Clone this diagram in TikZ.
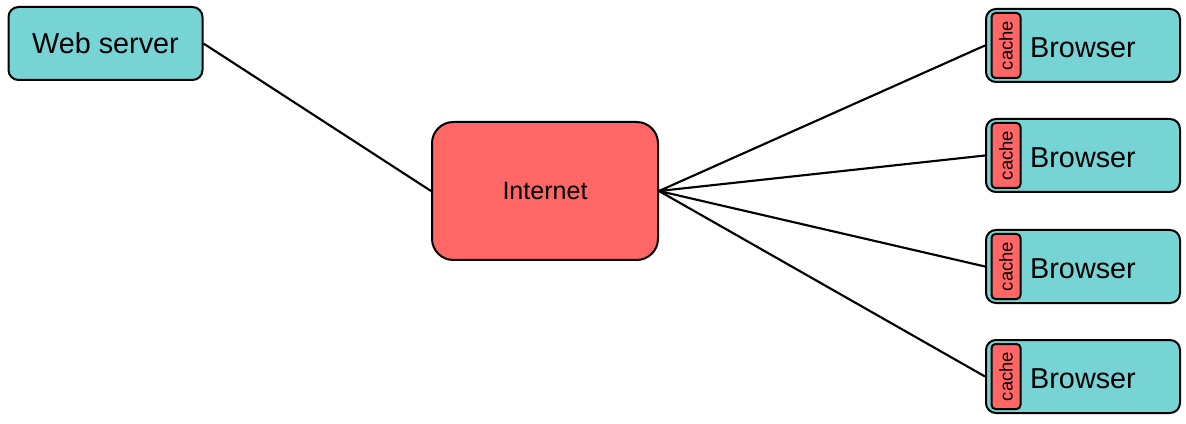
\documentclass[tikz,border=0pt]{standalone}
\usepackage{fontspec}
\setmainfont{Liberation Sans}
\usepackage{tikz}

\definecolor{boxteal}{RGB}{118,212,212}
\definecolor{boxred}{RGB}{255,102,102}

\begin{document}
\begin{tikzpicture}[x=0.75pt,y=0.75pt,yscale=-1,xscale=1,
    hostbox/.style={draw=black, line width=1.5pt, fill=boxteal, rounded corners=7.5pt,
        inner sep=0pt, minimum width=145.5pt, minimum height=54.75pt,
        font=\fontsize{21.6}{26}\selectfont},
    browserbox/.style={hostbox, text height=18.4pt, text depth=0pt},
    netbox/.style={draw=black, line width=1.5pt, fill=boxred, rounded corners=16pt,
        inner sep=0pt, minimum width=169.5pt, minimum height=103.5pt,
        font=\fontsize{18.8}{22}\selectfont},
    cachebox/.style={draw=black, line width=1.5pt, fill=boxred, rounded corners=3pt,
        inner sep=0pt, rotate=90, minimum width=48.75pt, minimum height=21.75pt,
        font=\fontsize{13.8}{16}\selectfont},
    link/.style={draw=black, line width=1.6pt}]

            \useasboundingbox (0,0) rectangle (1186,424);

            % Server and network
            \node [hostbox] (web) at (105.5,43.5) {Web server};
            \node [netbox]  (inet) at (545,191) {Internet};

            % Browsers
            \node [browserbox] (br1) at (1083,45.5)  {Browser};
            \node [browserbox] (br2) at (1083,155.5) {Browser};
            \node [browserbox] (br3) at (1083,266.5) {Browser};
            \node [browserbox] (br4) at (1083,376.5) {Browser};

            % Caches inside the browsers
            \node [cachebox, anchor=north] (ca1) at (990.5,45.5)  {cache};
            \node [cachebox, anchor=north] (ca2) at (990.5,155.5) {cache};
            \node [cachebox, anchor=north] (ca3) at (990.5,266.5) {cache};
            \node [cachebox, anchor=north] (ca4) at (990.5,376.5) {cache};

            % Connections
            \draw [link] (web.east) -- (inet.west);
            \draw [link] (inet.east) -- (br1.west);
            \draw [link] (inet.east) -- (br2.west);
            \draw [link] (inet.east) -- (br3.west);
            \draw [link] (inet.east) -- (br4.west);

\end{tikzpicture}
\end{document}
